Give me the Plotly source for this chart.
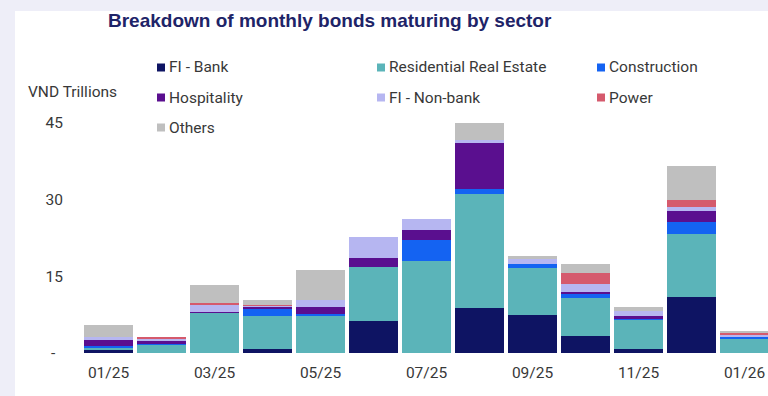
import plotly.graph_objects as go

# Monthly bonds maturing by sector, VND trillions
months = ["01/25", "02/25", "03/25", "04/25", "05/25", "06/25", "07/25",
          "08/25", "09/25", "10/25", "11/25", "12/25", "01/26"]
tick_labels = months[::2]

fi_bank = [0.5, 0.0, 0.0, 0.85, 0.0, 6.3, 0.0, 8.9, 7.4, 3.25, 0.85, 10.95, 0.0]
residential = [0.4, 1.7, 8.0, 6.3, 7.2, 10.6, 18.0, 22.3, 9.25, 7.6, 5.75, 12.4, 2.8]
construction = [0.45, 0.15, 0.0, 1.6, 0.5, 0.0, 4.2, 0.8, 0.85, 0.6, 0.1, 2.3, 0.3]
hospitality = [1.2, 0.65, 0.1, 0.35, 1.4, 1.6, 1.95, 9.0, 0.0, 0.4, 0.6, 2.15, 0.0]
fi_non_bank = [0.65, 0.25, 1.35, 0.2, 1.2, 4.2, 2.15, 0.65, 0.8, 1.75, 0.85, 0.8, 0.45]
power = [0.0, 0.2, 0.25, 0.1, 0.0, 0.0, 0.0, 0.0, 0.0, 2.15, 0.0, 1.3, 0.4]
others = [2.3, 0.0, 3.6, 1.0, 5.9, 0.0, 0.0, 3.4, 0.65, 1.6, 0.85, 6.65, 0.45]

sectors = ["FI - Bank", "Residential Real Estate", "Construction",
           "Hospitality", "FI - Non-bank", "Power", "Others"]
series = [fi_bank, residential, construction, hospitality, fi_non_bank, power, others]
colors = ["#0e1463", "#5bb4b9", "#1463f2", "#5a0f8f", "#b6b6f1", "#d55a6d", "#bfbfbf"]

FONT = "Roboto, Arial, sans-serif"
TITLE_FONT = "Liberation Sans, Arial, sans-serif"
TEXT = "#383838"

W, H = 768, 396
L, R, T, B = 82, 0, 96, 43
PW, PH = W - L - R, H - T - B
PX_PER_CAT = 53.0
PX_PER_UNIT = 5.11


def px(x):
    return (x - L) / PW


def py(y):
    return (H - B - y) / PH


fig = go.Figure()
for name, vals, col in zip(sectors, series, colors):
    fig.add_trace(go.Bar(
        x=months, y=vals, name=name, marker=dict(color=col, line=dict(width=0)),
        showlegend=False,
    ))

shapes = [
    # white card on the lavender page
    dict(type="rect", xref="paper", yref="paper", x0=px(15), x1=px(W + 5),
         y0=py(H + 5), y1=py(11), fillcolor="white", line=dict(width=0), layer="below"),
]
annotations = [
    dict(text="VND Trillions", xref="paper", yref="paper", x=px(26), y=py(92),
         xanchor="left", yanchor="middle", showarrow=False,
         font=dict(family=FONT, size=15.5, color=TEXT)),
]

# legend laid out in three columns, row by row
col_x = [157, 377, 597]
row_y = [67.5, 97.5, 127.5]
for i, (name, col) in enumerate(zip(sectors, colors)):
    cx = col_x[i % 3]
    cy = row_y[i // 3]
    shapes.append(dict(type="rect", xref="paper", yref="paper",
                       x0=px(cx), x1=px(cx + 8), y0=py(cy + 4), y1=py(cy - 4),
                       fillcolor=col, line=dict(width=0)))
    annotations.append(dict(text=name, xref="paper", yref="paper",
                            x=px(cx + 10), y=py(cy), xanchor="left", yanchor="middle",
                            showarrow=False,
                            font=dict(family=FONT, size=15.5, color=TEXT)))

fig.update_layout(
    width=W, height=H,
    margin=dict(l=L, r=R, t=T, b=B, pad=0),
    paper_bgcolor="#eeeef8",
    plot_bgcolor="white",
    barmode="stack",
    bargap=0.09,
    showlegend=False,
    title=dict(text="<b>Breakdown of monthly bonds maturing by sector</b>",
               xref="container", yref="container", x=108 / W, xanchor="left",
               y=1 - 20 / H, yanchor="middle",
               font=dict(family=TITLE_FONT, size=19, color="#1e2468")),
    xaxis=dict(
        type="category", categoryorder="array", categoryarray=months,
        range=[-0.5, -0.5 + PW / PX_PER_CAT],
        tickmode="array", tickvals=tick_labels, ticktext=tick_labels,
        showgrid=False, zeroline=False, showline=False, ticks="",
        ticklabelstandoff=8,
        tickfont=dict(family=FONT, size=15.5, color=TEXT),
    ),
    yaxis=dict(
        range=[0, PH / PX_PER_UNIT],
        tickmode="array", tickvals=[0, 15, 30, 45],
        ticktext=["-\u00a0\u00a0", "15", "30", "45"],
        showgrid=False, zeroline=False, showline=False, ticks="",
        ticklabelstandoff=18,
        tickfont=dict(family=FONT, size=15.5, color=TEXT),
    ),
    shapes=shapes,
    annotations=annotations,
)

fig.write_html("out.html")
